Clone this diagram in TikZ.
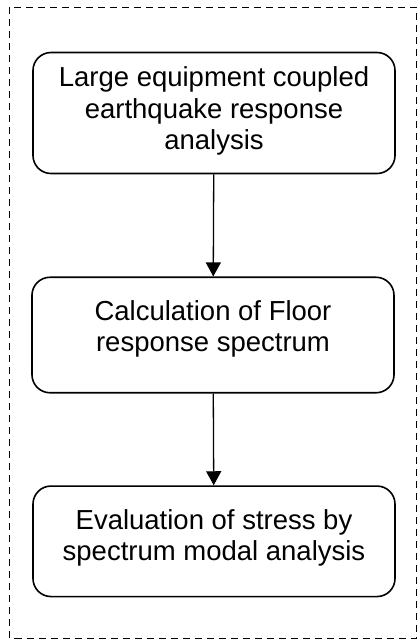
\documentclass[tikz,border=0pt]{standalone}
\usepackage{fontspec}
\setmainfont{Liberation Sans}
\usetikzlibrary{arrows.meta}

\tikzset{
  stage/.style={rectangle, draw, rounded corners=18pt, line width=1.6pt,
                minimum width=362pt, inner sep=0pt},
  stagetext/.style={align=center, inner sep=0pt,
                    font=\fontsize{27.5}{31.5}\selectfont},
  flow/.style={-{Triangle[width=15pt,length=14pt]}, line width=1.3pt}
}

\begin{document}
\begin{tikzpicture}[x=1pt, y=-1pt]

\useasboundingbox (0,0) rectangle (418,641);
\draw[dash pattern=on 7pt off 5pt, line width=1pt] (9.5,7) rectangle (416,638);

\node[stage, minimum height=121pt] (coupled) at (214, 113) {};
\node[stagetext] (coupled-t) at (214, 111) {Large equipment coupled\\earthquake response\\analysis};

\node[stage, minimum height=115.5pt] (floor) at (213, 335) {};
\node[stagetext] (floor-t) at (213, 329) {Calculation of Floor\\response spectrum};

\node[stage, minimum height=110.5pt] (stress) at (214, 541.3) {};
\node[stagetext] (stress-t) at (214, 538) {Evaluation of stress by\\spectrum modal analysis};

\draw[flow] (coupled) -- (floor);
\draw[flow] (floor) -- (stress);

\end{tikzpicture}
\end{document}
